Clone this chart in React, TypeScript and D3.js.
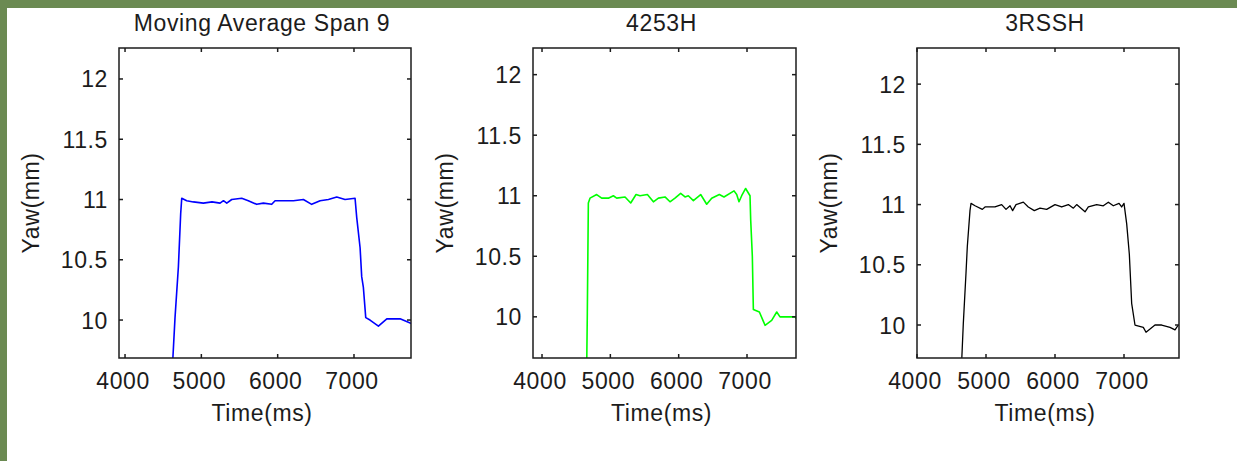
import React, { useRef, useEffect } from 'react';
import { select, scaleLinear, line } from 'd3';

const titles = ['Moving Average Span 9', '4253H', '3RSSH'];
const xTickValues = [4000, 5000, 6000, 7000];
const yTickValues = [10, 10.5, 11, 11.5, 12];
const xLabel = 'Time(ms)';
const yLabel = 'Yaw(mm)';

// axis limits
const xLimits = [
	[3921, 7747],
	[3868, 7717],
	[4000, 7797],
];
const yLimits = [
	[9.685, 12.257],
	[9.66, 12.22],
	[9.726, 12.3],
];

// Moving Average Span 9
const maTime = [4620, 4655, 4699, 4729, 4743, 4808, 4895, 5026, 5140, 5245, 5290, 5333, 5398, 5529, 5615, 5725, 5813, 5922, 5966, 6097, 6206, 6337, 6446, 6556, 6665, 6774, 6883, 7014, 7036, 7080, 7101, 7123, 7154, 7210, 7320, 7430, 7604, 7757];
const maYaw = [9.6, 10.02, 10.44, 10.88, 11.01, 10.99, 10.98, 10.97, 10.98, 10.97, 10.99, 10.97, 11.0, 11.01, 10.99, 10.96, 10.97, 10.96, 10.99, 10.99, 10.99, 11.0, 10.96, 10.99, 11.0, 11.02, 11.0, 11.01, 10.85, 10.6, 10.36, 10.27, 10.02, 10.0, 9.95, 10.01, 10.01, 9.97];

// 4253H
const hTime = [4654, 4663, 4678, 4702, 4800, 4873, 4971, 5044, 5093, 5215, 5298, 5376, 5434, 5542, 5630, 5703, 5800, 5873, 5946, 6029, 6093, 6141, 6215, 6322, 6410, 6483, 6595, 6663, 6810, 6849, 6883, 6922, 6980, 7044, 7054, 7078, 7093, 7181, 7264, 7361, 7435, 7483, 7703, 7727];
const hYaw = [9.6, 10.03, 10.94, 10.98, 11.01, 10.98, 10.98, 11.0, 10.98, 10.99, 10.94, 11.01, 11.0, 11.01, 10.95, 10.98, 10.99, 10.95, 10.98, 11.02, 10.99, 11.0, 10.96, 11.01, 10.93, 10.98, 11.01, 10.99, 11.04, 11.01, 10.95, 11.0, 11.06, 11.0, 10.8, 10.5, 10.06, 10.04, 9.93, 9.97, 10.04, 10.0, 10.0, 9.98];

// 3RSSH
const rTime = [4640, 4671, 4710, 4729, 4768, 4783, 4841, 4947, 4986, 5130, 5227, 5290, 5348, 5386, 5435, 5541, 5613, 5700, 5783, 5879, 6000, 6097, 6193, 6266, 6314, 6435, 6483, 6604, 6700, 6773, 6845, 6928, 6966, 7000, 7039, 7077, 7111, 7159, 7280, 7319, 7449, 7546, 7667, 7739, 7787];
const rYaw = [9.6, 10.01, 10.43, 10.65, 10.95, 11.01, 10.99, 10.96, 10.98, 10.98, 11.0, 10.96, 10.99, 10.95, 11.0, 11.02, 10.98, 10.95, 10.97, 10.96, 11.0, 10.98, 11.0, 10.97, 11.0, 10.94, 10.98, 11.0, 10.99, 11.02, 10.99, 11.01, 10.98, 11.01, 10.84, 10.59, 10.18, 10.0, 9.98, 9.94, 10.0, 10.0, 9.98, 9.96, 10.0];

const seriesTime = [maTime, hTime, rTime];
const seriesYaw = [maYaw, hYaw, rYaw];
const colors = ['#0000ff', '#00ff00', '#000000'];

const W = 1237;
const H = 461;
const boxLeft = [119, 533, 917];
const boxRight = [411, 796, 1179];
const boxTop = 48;
const boxBottom = 358;
const font = "'Liberation Sans', Arial, sans-serif";
const ink = '#1c1c1c';

function App() {
	const svgRef = useRef(null);

	useEffect(() => {
		document.body.style.margin = '0';
		const svg = select(svgRef.current);
		svg.selectAll('*').remove();

		svg.append('rect').attr('width', W).attr('height', H).attr('fill', '#ffffff');
		svg.append('rect').attr('width', W).attr('height', 8).attr('fill', '#6b8a52');
		svg.append('rect').attr('width', 7).attr('height', H).attr('fill', '#6b8a52');

		titles.forEach((title, i) => {
			const x = scaleLinear().domain(xLimits[i]).range([boxLeft[i], boxRight[i]]);
			const y = scaleLinear().domain(yLimits[i]).range([boxBottom, boxTop]);
			const g = svg.append('g');

			g.append('clipPath')
				.attr('id', 'clip' + i)
				.append('rect')
				.attr('x', boxLeft[i])
				.attr('y', boxTop)
				.attr('width', boxRight[i] - boxLeft[i])
				.attr('height', boxBottom - boxTop);

			const pts = seriesTime[i].map((t, k) => [t, seriesYaw[i][k]]);
			const path = line()
				.x((d) => x(d[0]))
				.y((d) => y(d[1]));
			g.append('path')
				.attr('d', path(pts))
				.attr('clip-path', `url(#clip${i})`)
				.attr('fill', 'none')
				.attr('stroke', colors[i])
				.attr('stroke-width', i === 2 ? 1.3 : 1.6)
				.attr('stroke-linejoin', 'round');

			// box
			g.append('rect')
				.attr('x', boxLeft[i])
				.attr('y', boxTop)
				.attr('width', boxRight[i] - boxLeft[i])
				.attr('height', boxBottom - boxTop)
				.attr('fill', 'none')
				.attr('stroke', ink)
				.attr('stroke-width', 1.5);

			// ticks, inward on all four sides
			xTickValues.forEach((v) => {
				const px = x(v);
				g.append('line').attr('x1', px).attr('x2', px).attr('y1', boxBottom).attr('y2', boxBottom - 4).attr('stroke', ink).attr('stroke-width', 1.5);
				g.append('line').attr('x1', px).attr('x2', px).attr('y1', boxTop).attr('y2', boxTop + 4).attr('stroke', ink).attr('stroke-width', 1.5);
				g.append('text')
					.attr('x', px - 2)
					.attr('y', 389)
					.attr('text-anchor', 'middle')
					.attr('font-family', font)
					.attr('font-size', 23)
					.attr('letter-spacing', 0.6)
					.attr('fill', ink)
					.text(v);
			});
			yTickValues.forEach((v) => {
				const py = y(v);
				g.append('line').attr('x1', boxLeft[i]).attr('x2', boxLeft[i] + 4).attr('y1', py).attr('y2', py).attr('stroke', ink).attr('stroke-width', 1.5);
				g.append('line').attr('x1', boxRight[i]).attr('x2', boxRight[i] - 4).attr('y1', py).attr('y2', py).attr('stroke', ink).attr('stroke-width', 1.5);
				g.append('text')
					.attr('x', boxLeft[i] - 11)
					.attr('y', py + 8.5)
					.attr('text-anchor', 'end')
					.attr('font-family', font)
					.attr('font-size', 23)
					.attr('letter-spacing', 0.6)
					.attr('fill', ink)
					.text(v);
			});

			const cx = (boxLeft[i] + boxRight[i]) / 2;
			g.append('text')
				.attr('x', cx - 3)
				.attr('y', 31)
				.attr('text-anchor', 'middle')
				.attr('font-family', font)
				.attr('font-size', 23)
				.attr('letter-spacing', 0.6)
				.attr('fill', ink)
				.text(title);
			g.append('text')
				.attr('x', cx - 3)
				.attr('y', 421)
				.attr('text-anchor', 'middle')
				.attr('font-family', font)
				.attr('font-size', 23)
				.attr('letter-spacing', 0.6)
				.attr('fill', ink)
				.text(xLabel);
			g.append('text')
				.attr('transform', `translate(${boxLeft[i] - 80},${(boxTop + boxBottom) / 2}) rotate(-90)`)
				.attr('text-anchor', 'middle')
				.attr('font-family', font)
				.attr('font-size', 23)
				.attr('letter-spacing', 0.6)
				.attr('fill', ink)
				.text(yLabel);
		});
	}, []);

	return <svg ref={svgRef} width={W} height={H} style={{ display: 'block' }}></svg>;
}

export default App;
